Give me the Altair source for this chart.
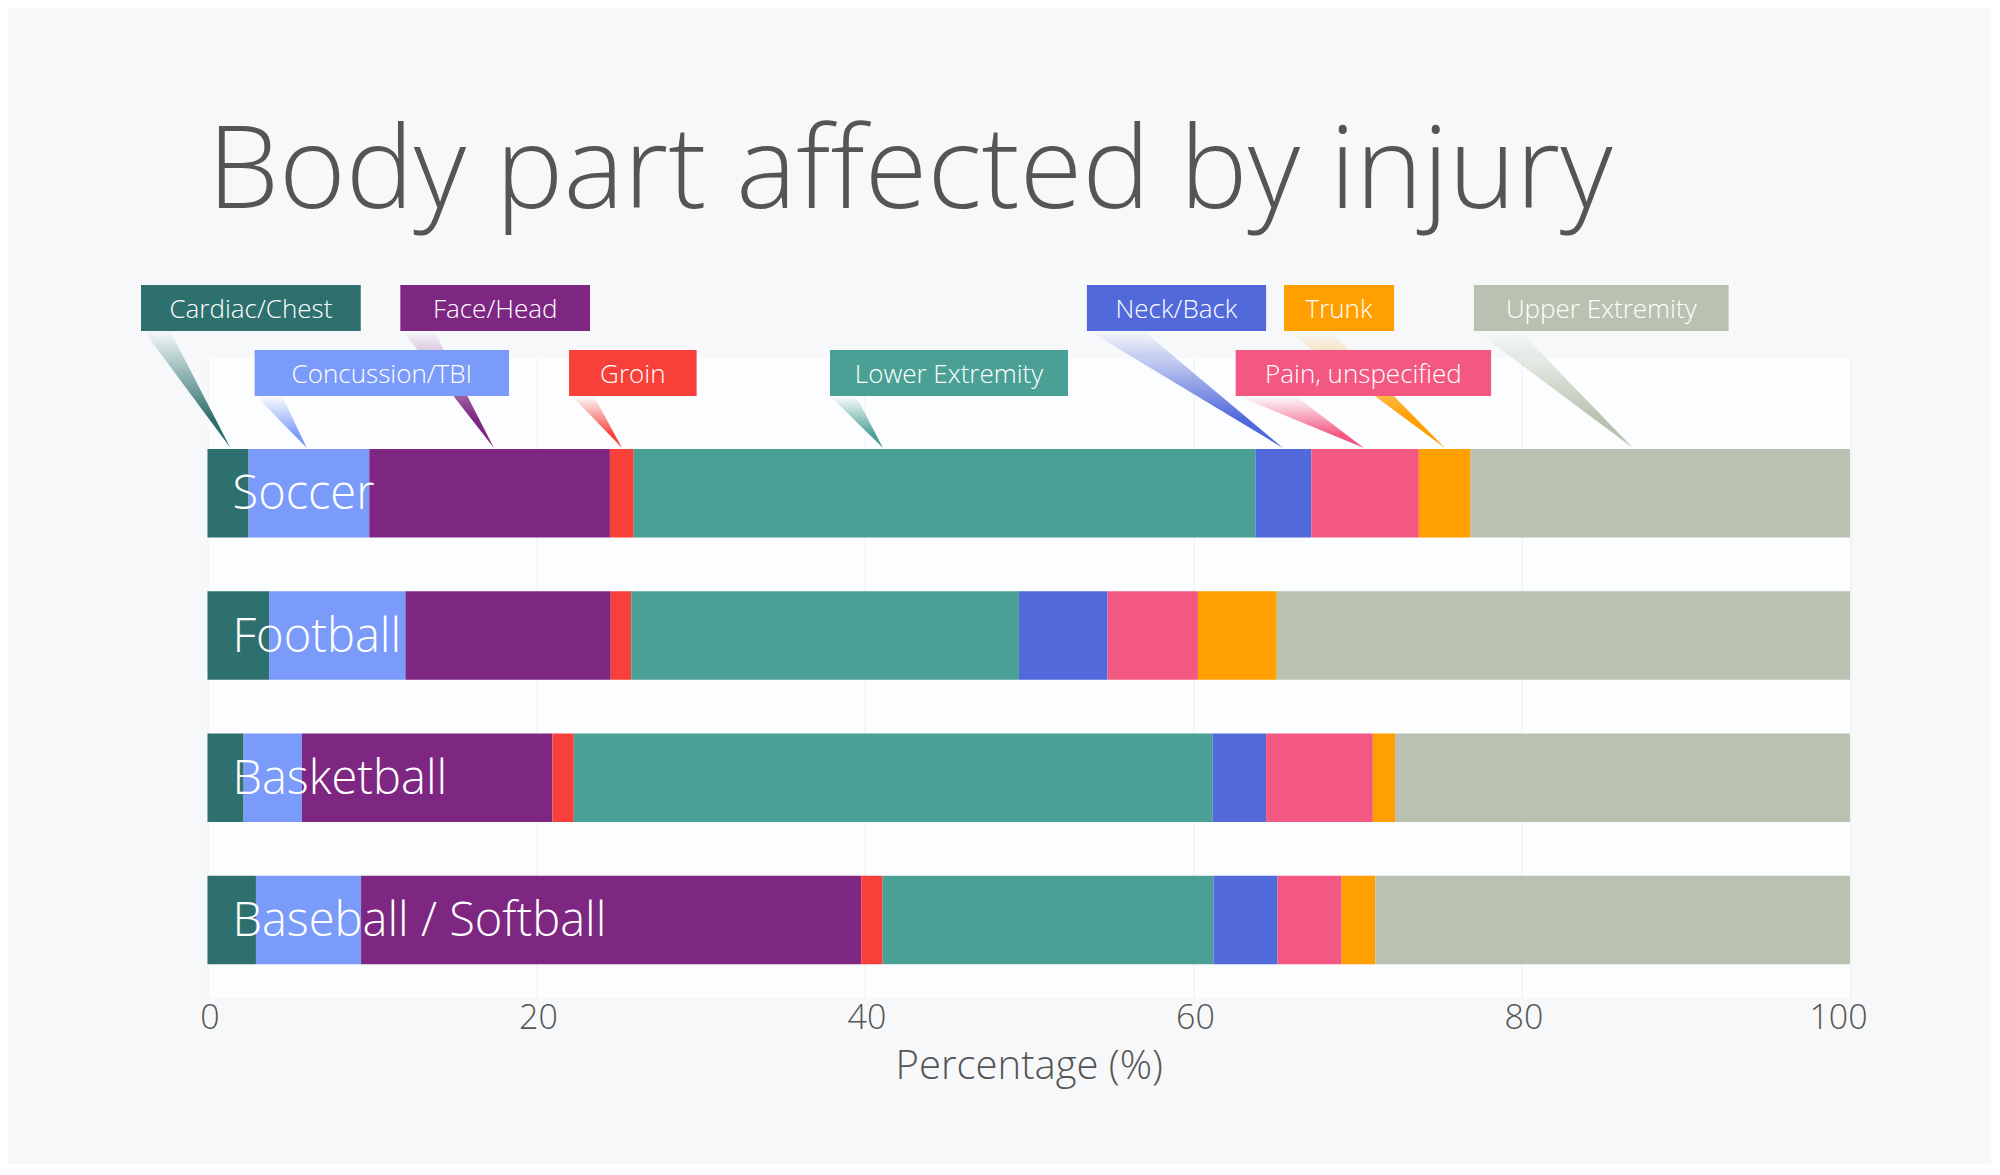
import altair as alt
import pandas as pd

# ---------------- data ----------------
sports = ["Soccer", "Football", "Basketball", "Baseball / Softball"]
parts = ["Cardiac/Chest", "Concussion/TBI", "Face/Head", "Groin", "Lower Extremity",
         "Neck/Back", "Pain, unspecified", "Trunk", "Upper Extremity"]
colors = ["#2e706e", "#7b9bfa", "#7d2783", "#f7403a", "#4aa094",
          "#5169da", "#f25882", "#ff9f00", "#b9c2b0"]

soccer = [2.5, 7.35, 14.65, 1.45, 37.85, 3.4, 6.55, 3.15, 23.1]
football = [3.75, 8.3, 12.5, 1.25, 23.6, 5.4, 5.5, 4.8, 34.9]
basketball = [2.2, 3.55, 15.25, 1.3, 38.9, 3.25, 6.5, 1.35, 27.7]
baseball = [2.95, 6.4, 30.45, 1.3, 20.15, 3.9, 3.9, 2.05, 28.9]

x_ticks = [0, 20, 40, 60, 80, 100]
title_text = "Body part affected by injury"
x_title = "Percentage (%)"

# annotation layout: box extents / pointer base / pointer tip, in percent units
ann_row = [1, 2, 1, 2, 2, 1, 2, 1, 1]
ann_box_left = [-4.05, 2.87, 11.74, 22.01, 37.9, 53.54, 62.6, 65.54, 77.1]
ann_box_right = [9.33, 18.36, 23.29, 29.78, 52.39, 64.45, 78.15, 72.24, 92.61]
ann_base_left = [-3.87, 2.95, 11.89, 22.19, 37.9, 53.67, 62.74, 65.73, 77.22]
ann_base_right = [-2.28, 4.54, 13.8, 23.52, 39.48, 56.99, 66.25, 68.34, 79.88]
ann_tip = [1.4, 6.05, 17.44, 25.24, 41.13, 65.48, 70.41, 75.34, 86.79]

# ---------------- layout ----------------
PLOT_W, PLOT_H = 1642.5, 640
row_top = {1: -73, 2: -8}
row_bottom = {1: -27, 2: 38}
TIP_Y = 90
FONT = "Open Sans"
TEXT_COLOR = "#555555"

rows = []
for sport, vals in zip(sports, [soccer, football, basketball, baseball]):
    for i, (p, v) in enumerate(zip(parts, vals)):
        rows.append({"sport": sport, "part": p, "value": v, "idx": i})
df = pd.DataFrame(rows)

xscale = alt.Scale(domain=[0, 100], nice=False, zero=False)
xaxis = alt.Axis(values=x_ticks, title=x_title, ticks=False, domain=False,
                 labelFontSize=34, labelFont=FONT, labelFontWeight=300,
                 labelColor=TEXT_COLOR, labelPadding=3, labelFlush=False,
                 labelOffset={"condition": {"test": "datum.value == 100", "value": -12},
                              "value": 2},
                 grid=True, gridColor="#eceef1", gridWidth=1,
                 titleFontSize=40, titleFont=FONT, titleFontWeight=300,
                 titleColor=TEXT_COLOR, titleBaseline="alphabetic", titleY=80)
yscale = alt.Scale(paddingInner=0.378, paddingOuter=0.4378, align=0.73)
cscale = alt.Scale(domain=parts, range=colors)

bars = alt.Chart(df).mark_bar().encode(
    x=alt.X("value:Q", stack="zero", scale=xscale, axis=xaxis),
    y=alt.Y("sport:N", sort=sports, scale=yscale, axis=None),
    color=alt.Color("part:N", scale=cscale, legend=None),
    order=alt.Order("idx:Q"),
)

bar_labels = alt.Chart(pd.DataFrame({"sport": sports})).mark_text(
    align="left", baseline="middle", dy=2, fontSize=47, font=FONT,
    fontWeight=300, color="white"
).encode(
    x=alt.value(25),
    y=alt.Y("sport:N", sort=sports, scale=yscale, axis=None),
    text="sport:N",
)


def rgba(hexc, a):
    h = hexc.lstrip("#")
    r, g, b = int(h[0:2], 16), int(h[2:4], 16), int(h[4:6], 16)
    return f"rgba({r},{g},{b},{a})"


pointers = []
for i, p in enumerate(parts):
    c = colors[i]
    pdf = pd.DataFrame({
        "py": [row_bottom[ann_row[i]], TIP_Y],
        "xa": [ann_base_left[i], ann_tip[i]],
        "xb": [ann_base_right[i], ann_tip[i]],
    })
    grad = {
        "gradient": "linear", "x1": 0, "y1": 0, "x2": 0, "y2": 1,
        "stops": [
            {"offset": 0, "color": rgba(c, 0.0)},
            {"offset": 0.75, "color": rgba(c, 1.0)},
            {"offset": 1, "color": rgba(c, 1.0)},
        ],
    }
    pointers.append(
        alt.Chart(pdf).mark_area(orient="horizontal", color=grad).encode(
            y=alt.Y("py:Q", scale=None),
            x=alt.X("xa:Q", scale=xscale, axis=xaxis, stack=None),
            x2="xb:Q",
        )
    )

ann_df = pd.DataFrame({
    "part": parts,
    "bx0": ann_box_left,
    "bx1": ann_box_right,
    "bxc": [(a + b) / 2 for a, b in zip(ann_box_left, ann_box_right)],
    "by0": [row_top[r] for r in ann_row],
    "by1": [row_bottom[r] for r in ann_row],
    "byc": [(row_top[r] + row_bottom[r]) / 2 for r in ann_row],
})

boxes = alt.Chart(ann_df).mark_rect().encode(
    x=alt.X("bx0:Q", scale=xscale, axis=xaxis),
    x2="bx1:Q",
    y=alt.Y("by0:Q", scale=None),
    y2="by1:Q",
    color=alt.Color("part:N", scale=cscale, legend=None),
)

box_text = alt.Chart(ann_df).mark_text(
    align="center", baseline="middle", dy=2, fontSize=26, font=FONT,
    fontWeight=300, color="white"
).encode(
    x=alt.X("bxc:Q", scale=xscale, axis=xaxis),
    y=alt.Y("byc:Q", scale=None),
    text="part:N",
)

title = alt.Chart(pd.DataFrame({"t": [title_text]})).mark_text(
    align="left", baseline="alphabetic", fontSize=114, font=FONT,
    fontWeight=300, color=TEXT_COLOR
).encode(
    x=alt.value(0),
    y=alt.value(-150),
    text="t:N",
)

chart = alt.layer(bars, bar_labels, *pointers, boxes, box_text, title).properties(
    width=PLOT_W,
    height=PLOT_H,
    padding={"left": 199.5, "top": 350, "right": 141, "bottom": 166},
    autosize=alt.AutoSizeParams(type="none"),
    background="#f6f8fa",
).configure_view(stroke=None, fill="#fcfdfe")

chart.save("out.html", embed_options={"renderer": "svg", "actions": False})
